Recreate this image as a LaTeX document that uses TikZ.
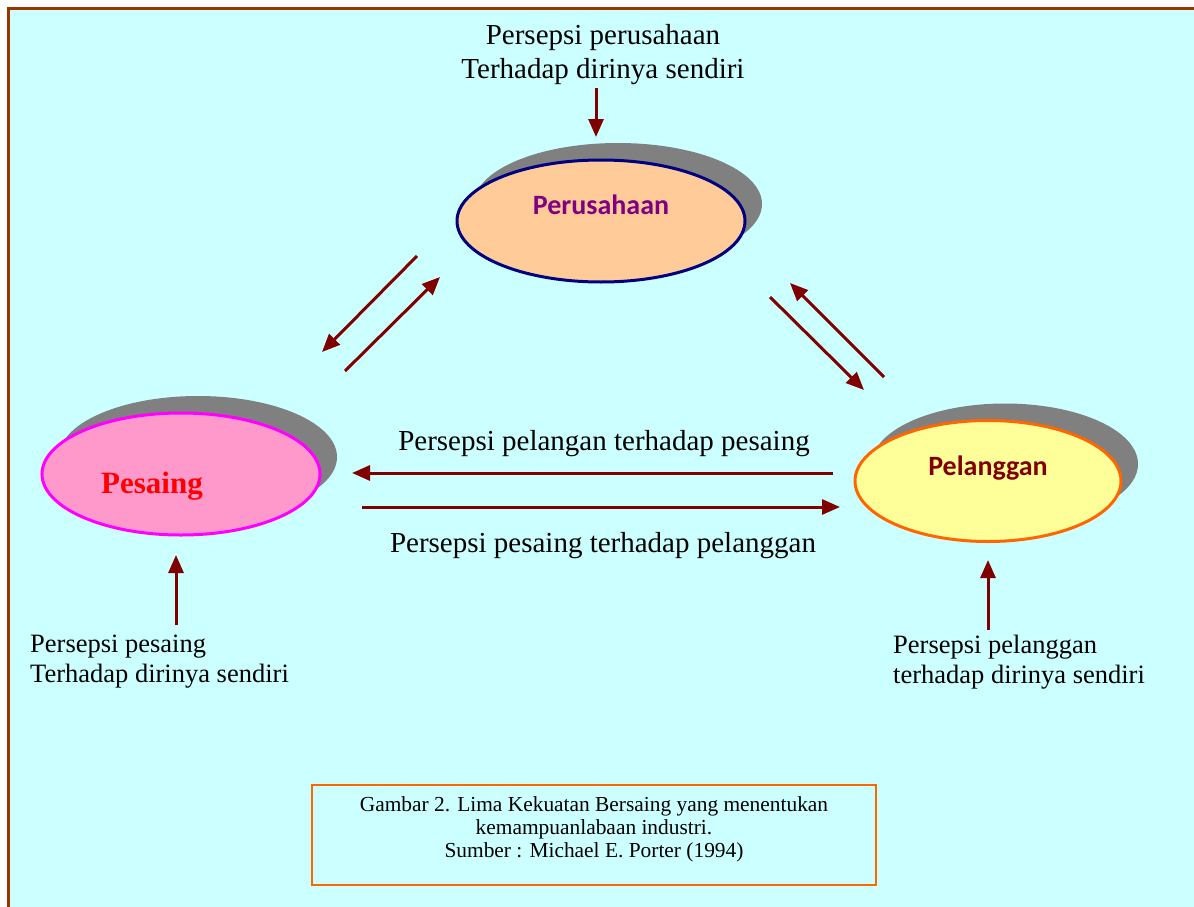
\documentclass[tikz,border=0pt]{standalone}
\usepackage{fontspec}
\setmainfont{Liberation Serif}
\newfontfamily\calibri{Carlito}
\usetikzlibrary{shapes.geometric,shadows,arrows.meta}

\definecolor{bgcyan}{HTML}{CCFFFF}
\definecolor{framebrown}{HTML}{993300}
\definecolor{darkred}{HTML}{800000}
\definecolor{shadowgray}{HTML}{808080}
\definecolor{peach}{HTML}{FFCC99}
\definecolor{navy}{HTML}{000080}
\definecolor{pinkfill}{HTML}{FF99CC}
\definecolor{pinkline}{HTML}{FF00FF}
\definecolor{lightyellow}{HTML}{FFFF99}
\definecolor{orangeline}{HTML}{FF6600}
\definecolor{purpletext}{HTML}{800080}

\begin{document}
\begin{tikzpicture}[x=1pt,y=-1pt,
    oval/.style={ellipse,inner sep=0pt,line width=3pt,
      drop shadow={shadow xshift=17pt,shadow yshift=17pt,fill=shadowgray,opacity=1}},
    arr/.style={darkred,line width=3pt,-{Triangle[length=18pt,width=15pt]}},
    bigtxt/.style={inner sep=0pt,align=center,font=\fontsize{29}{34}\selectfont},
    smalltxt/.style={inner sep=0pt,align=left,anchor=west,font=\fontsize{26.5}{30}\selectfont}]
  \useasboundingbox (0,0) rectangle (1194,907);
  % background and frame
  \fill[white] (0,0) rectangle (1194,907);
  \fill[bgcyan] (10,10) rectangle (1194,907);
  \draw[framebrown,line width=3.5pt] (8.5,907) -- (8.5,8.5) -- (1194,8.5);

  % the three parties
  \node[oval,fill=peach,draw=navy,minimum width=288pt,minimum height=122pt] (per) at (601,221) {};
  \node[oval,fill=pinkfill,draw=pinkline,minimum width=278pt,minimum height=122pt] (pes) at (181,474) {};
  \node[oval,fill=lightyellow,draw=orangeline,minimum width=266pt,minimum height=121pt] (pel) at (988,481) {};
  \node[inner sep=0pt,text=purpletext,font=\calibri\bfseries\fontsize{28}{32}\selectfont] (perlab) at (601,205) {Perusahaan};
  \node[inner sep=0pt,text=red,font=\bfseries\fontsize{31}{36}\selectfont] (peslab) at (152,486) {Pesaing};
  \node[inner sep=0pt,text=darkred,font=\calibri\bfseries\fontsize{28}{32}\selectfont] (pellab) at (988,468) {Pelanggan};

  % texts
  \node[bigtxt] (toptxt) at (603,55) {Persepsi perusahaan\\Terhadap dirinya sendiri};
  \node[bigtxt] (uptxt) at (604,444) {Persepsi pelangan terhadap pesaing};
  \node[bigtxt] (lowtxt) at (603,546) {Persepsi pesaing terhadap pelanggan};
  \node[smalltxt] (leftxt) at (30,662) {Persepsi pesaing\\Terhadap dirinya sendiri};
  \node[smalltxt] (rightxt) at (893,662) {Persepsi pelanggan\\ terhadap dirinya sendiri};

  % arrows
  \coordinate (t1) at (596,88);   \coordinate (t2) at (596,137);
  \coordinate (l1) at (417,256);  \coordinate (l2) at (322,352);
  \coordinate (l3) at (345,371);  \coordinate (l4) at (440,277);
  \coordinate (r1) at (770,297);  \coordinate (r2) at (864,390);
  \coordinate (r3) at (884,377);  \coordinate (r4) at (790,283);
  \coordinate (h1) at (833,473);  \coordinate (h2) at (352,473);
  \coordinate (h3) at (362,507);  \coordinate (h4) at (840,507);
  \coordinate (b1) at (176,625);  \coordinate (b2) at (176,555);
  \coordinate (b3) at (988,630);  \coordinate (b4) at (988,560);
  \draw[arr] (t1) -- (t2);
  \draw[arr] (l1) -- (l2);
  \draw[arr] (l3) -- (l4);
  \draw[arr] (r1) -- (r2);
  \draw[arr] (r3) -- (r4);
  \draw[arr] (h1) -- (h2);
  \draw[arr] (h3) -- (h4);
  \draw[arr] (b1) -- (b2);
  \draw[arr] (b3) -- (b4);

  % caption
  \node[draw=orangeline,line width=2.5pt,minimum width=564pt,minimum height=100pt,inner sep=0pt] (capbox) at (594,835) {};
  \node[inner sep=0pt,align=center,font=\fontsize{21.4}{23}\selectfont] (captxt) at (594,829)
    {Gambar 2. Lima Kekuatan Bersaing yang menentukan\\kemampuanlabaan industri.\\Sumber : Michael E. Porter (1994)};
\end{tikzpicture}
\end{document}
